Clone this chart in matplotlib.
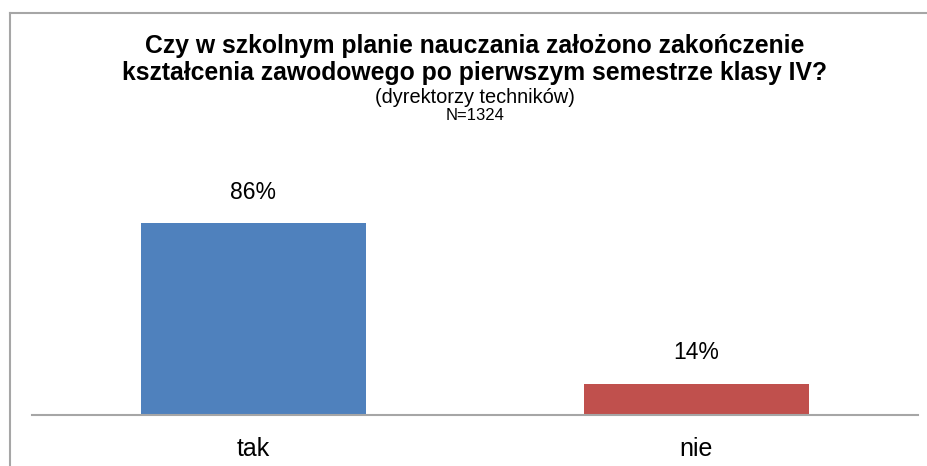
import matplotlib
matplotlib.use("Agg")
import matplotlib.pyplot as plt
from matplotlib.lines import Line2D

categories = ["tak", "nie"]
values = [86, 14]
value_labels = ["86%", "14%"]
colors = ["#4F81BD", "#C0504D"]
title_lines = ["Czy w szkolnym planie nauczania założono zakończenie",
               "kształcenia zawodowego po pierwszym semestrze klasy IV?"]
subtitle = "(dyrektorzy techników)"
n_label = "N=1324"

plt.rcParams['font.family'] = ['Liberation Sans', 'DejaVu Sans']

W, H = 928, 466
fig = plt.figure(figsize=(W / 100, H / 100), dpi=100)
fig.patch.set_facecolor("white")
fig.patch.set_edgecolor("white")

# outer chart border (only left and top edges visible in the crop)
border_kw = dict(transform=fig.transFigure, color="#A6A6A6", linewidth=1.5)
fig.lines.append(Line2D([10.5 / W, 1.05], [1 - 13 / H, 1 - 13 / H], **border_kw))
fig.lines.append(Line2D([10.5 / W, 10.5 / W], [1 - 13 / H, -0.05], **border_kw))

ax = fig.add_axes([32 / W, 1 - 415 / H, (918 - 32) / W, (415 - 192) / H])
x = range(len(categories))
bars = ax.bar(x, values, width=0.51, color=colors)
ax.set_xlim(-0.5, 1.5)
ax.set_ylim(0, 100)
for s in ["top", "left", "right"]:
    ax.spines[s].set_visible(False)
ax.spines["bottom"].set_color("#A6A6A6")
ax.spines["bottom"].set_linewidth(1.5)
ax.set_yticks([])
ax.set_xticks(list(x))
ax.set_xticklabels(categories, fontsize=18)
ax.tick_params(axis="x", length=0, pad=16)
ax.patch.set_alpha(0)

for b, lab in zip(bars, value_labels):
    ax.annotate(lab, (b.get_x() + b.get_width() / 2, b.get_height()),
                xytext=(0, 14), textcoords="offset points",
                ha="center", va="bottom", fontsize=16.5)

cx = 475 / W
fig.text(cx, 1 - 53 / H, title_lines[0], ha="center", va="baseline",
         fontsize=17.8, fontweight="bold")
fig.text(cx, 1 - 80 / H, title_lines[1], ha="center", va="baseline",
         fontsize=17.8, fontweight="bold")
fig.text(cx, 1 - 103 / H, subtitle, ha="center", va="baseline", fontsize=14.4)
fig.text(cx, 1 - 120 / H, n_label, ha="center", va="baseline", fontsize=12)

fig.savefig("out.png", dpi=100)
